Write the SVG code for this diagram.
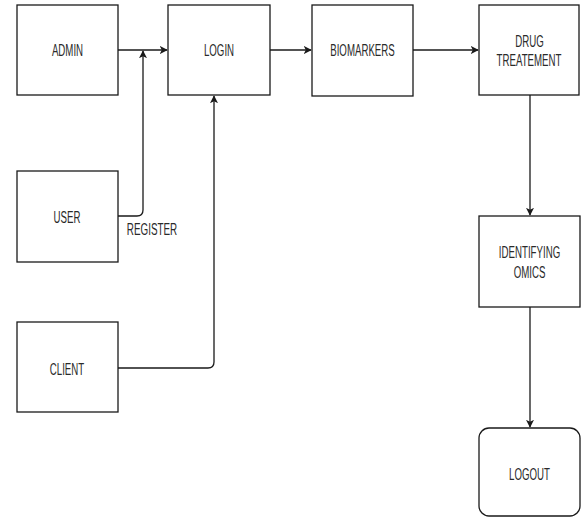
<svg xmlns="http://www.w3.org/2000/svg" width="587" height="518" viewBox="0 0 587 518">
<style>
  .box { fill: #ffffff; stroke: #1a1a1a; stroke-width: 1.3; }
  .lbl { font-family: "Liberation Sans", Arial, sans-serif; font-size: 17px; fill: #2a2a2a; text-anchor: middle; }
  .edge { fill: none; stroke: #1a1a1a; stroke-width: 1.3; }
</style>
<defs>
  <marker id="arr" viewBox="0 0 10 10" refX="9" refY="5" markerWidth="8" markerHeight="8" markerUnits="userSpaceOnUse" orient="auto">
    <path d="M0,0 L10,5 L0,10 L2.5,5 Z" fill="#1a1a1a"/>
  </marker>
</defs>
<rect width="587" height="518" fill="#ffffff"/>
<g id="connectors">
  <path class="edge" d="M118,50 H167" marker-end="url(#arr)"/>
  <path class="edge" d="M270,50 H311" marker-end="url(#arr)"/>
  <path class="edge" d="M413,50 H478" marker-end="url(#arr)"/>
  <path class="edge" d="M530,95 V215" marker-end="url(#arr)"/>
  <path class="edge" d="M530,307 V427" marker-end="url(#arr)"/>
  <path class="edge" d="M118,216 H137 Q143,216 143,210 V51" marker-end="url(#arr)"/>
  <path class="edge" d="M118,368 H208 Q214,368 214,362 V96" marker-end="url(#arr)"/>
  <text class="lbl" transform="translate(152,235) scale(0.58,1)">REGISTER</text>
</g>
<g id="admin">
  <rect class="box" x="17" y="5" width="101" height="90"/>
  <text class="lbl" transform="translate(67.5,56) scale(0.57,1)">ADMIN</text>
</g>
<g id="login">
  <rect class="box" x="168" y="5" width="102" height="90"/>
  <text class="lbl" transform="translate(219,56) scale(0.57,1)">LOGIN</text>
</g>
<g id="biomarkers">
  <rect class="box" x="312" y="5" width="101" height="91"/>
  <text class="lbl" transform="translate(362.5,56) scale(0.57,1)">BIOMARKERS</text>
</g>
<g id="drug-treatement">
  <rect class="box" x="479" y="5" width="100" height="90"/>
  <text class="lbl" transform="translate(529.5,47) scale(0.57,1)">DRUG</text>
  <text class="lbl" transform="translate(529,66) scale(0.57,1)">TREATEMENT</text>
</g>
<g id="user">
  <rect class="box" x="17" y="171" width="101" height="91"/>
  <text class="lbl" transform="translate(67,223) scale(0.57,1)">USER</text>
</g>
<g id="client">
  <rect class="box" x="17" y="322" width="101" height="90"/>
  <text class="lbl" transform="translate(67,375) scale(0.57,1)">CLIENT</text>
</g>
<g id="identifying-omics">
  <rect class="box" x="479" y="216" width="101" height="91"/>
  <text class="lbl" transform="translate(529.5,258) scale(0.57,1)">IDENTIFYING</text>
  <text class="lbl" transform="translate(529.5,278) scale(0.57,1)">OMICS</text>
</g>
<g id="logout">
  <rect class="box" x="479" y="428" width="101" height="88" rx="10" ry="10"/>
  <text class="lbl" transform="translate(529.5,480) scale(0.57,1)">LOGOUT</text>
</g>
</svg>
